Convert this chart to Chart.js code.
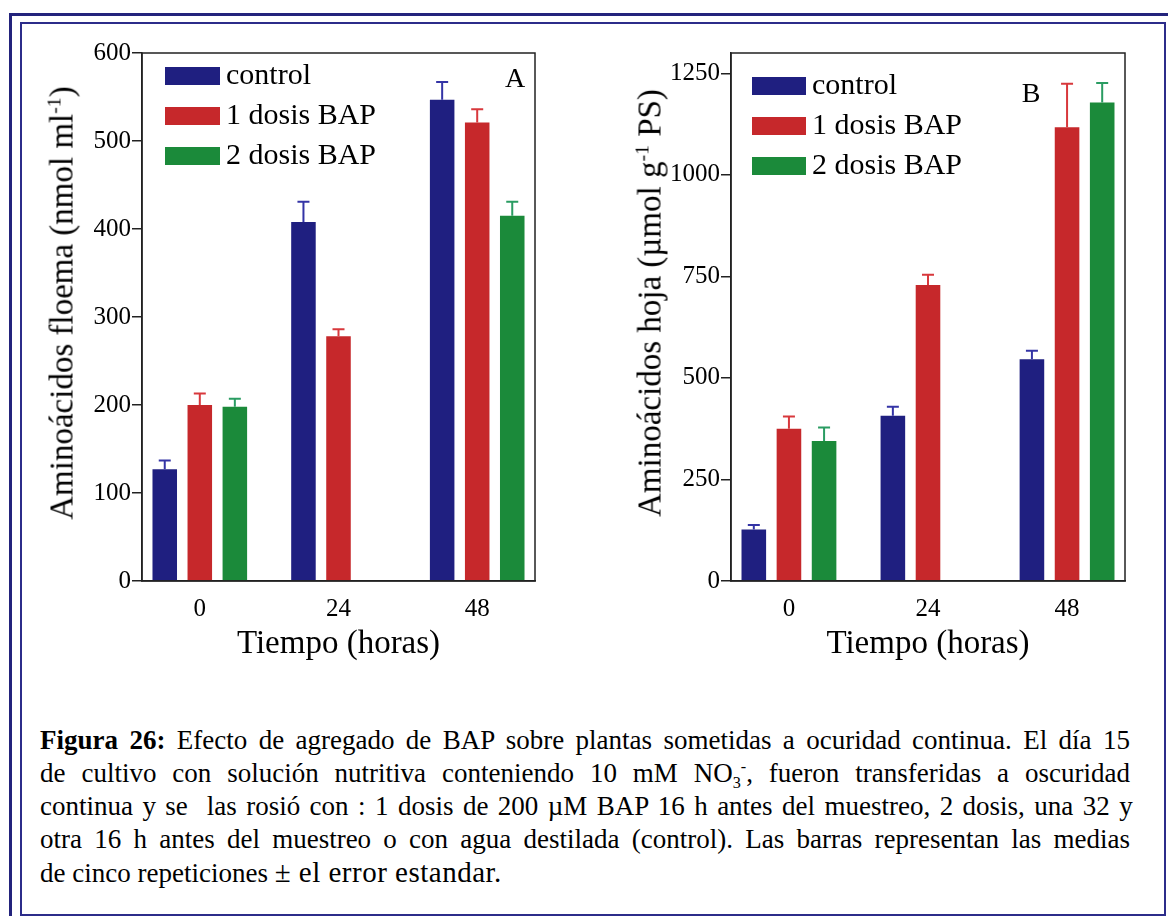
<!DOCTYPE html>
<html>
<head>
<meta charset="utf-8">
<title>Figura 26</title>
<script src="https://cdn.jsdelivr.net/npm/chart.js@4.4.1/dist/chart.umd.min.js"></script>
<style>
  html, body { margin: 0; padding: 0; background: #fff; }
  body { width: 1168px; height: 916px; overflow: hidden; position: relative;
         font-family: "Liberation Serif", "Times New Roman", serif; color: #000; }
  .frame-outer { position: absolute; left: 9px; top: 13px; width: 1200px; height: 960px;
                 border: 3px solid #23237c; }
  .frame-inner { position: absolute; left: 20px; top: 22px; width: 1142px; height: 890px;
                 border: 2px solid #2c2c8a; }
  canvas { position: absolute; }
  #chartA { left: 24px; top: 26px; }
  #chartB { left: 600px; top: 26px; }
  .ytitle { position: absolute; white-space: nowrap; font-size: 33px; line-height: 1;
            transform: translate(-50%, -50%) rotate(-90deg); }
  .ytitle sup { font-size: 0.6em; vertical-align: 0.6em; line-height: 0; }
  .panel { position: absolute; font-size: 28px; line-height: 1; transform: translate(-50%, -50%); }
  .cap { position: absolute; left: 40px; font-size: 27px; line-height: 33px; white-space: nowrap; }
  .cap span.l { display: inline-block; transform-origin: 0 50%; }
  .cap sub, .cap sup { font-size: 0.6em; line-height: 0; }
  .cap .wide { font-size: 29px; letter-spacing: 0.5px; }
</style>
</head>
<body>
<div class="frame-outer"></div>
<div class="frame-inner"></div>

<canvas id="chartA" width="540" height="650"></canvas>
<canvas id="chartB" width="550" height="650"></canvas>

<div class="ytitle" style="left:62px; top:303px;">Aminoácidos floema (nmol ml<sup>-1</sup>)</div>
<div class="ytitle" style="left:650px; top:303px;">Aminoácidos hoja (µmol g<sup>-1</sup> PS)</div>
<div class="panel" style="left:515px; top:78px;">A</div>
<div class="panel" style="left:1031px; top:93px;">B</div>

<div class="cap" style="top:724px;"><span class="l j"><b>Figura 26:</b> Efecto de agregado de BAP sobre plantas sometidas a ocuridad continua. El día 15</span></div>
<div class="cap" style="top:757px;"><span class="l j">de cultivo con solución nutritiva conteniendo 10 mM NO<sub>3</sub><sup>-</sup>, fueron transferidas a oscuridad</span></div>
<div class="cap" style="top:790px;"><span class="l j">continua y se&nbsp; las rosió con : 1 dosis de 200 µM BAP 16 h antes del muestreo, 2 dosis, una 32 y</span></div>
<div class="cap" style="top:823px;"><span class="l j">otra 16 h antes del muestreo o con agua destilada (control). Las barras representan las medias</span></div>
<div class="cap" style="top:856px;"><span class="l">de cinco repeticiones <span class="wide">± el error estandar.</span></span></div>

<script>
// Sampling times (hours)
const hours = [0, 24, 48];
const seriesNames = ['control', '1 dosis BAP', '2 dosis BAP'];

// Panel A: amino acids in phloem exudate (nmol ml-1), means and standard errors
const floemaControl = [127, 408, 547];
const floemaDosis1  = [200, 278, 521];
const floemaDosis2  = [198, null, 415];
const floemaControlErr = [10, 23, 20];
const floemaDosis1Err  = [13, 8, 15];
const floemaDosis2Err  = [9, null, 16];
const floemaTicks = [0, 100, 200, 300, 400, 500, 600];

// Panel B: amino acids in leaf (µmol g-1 PS), means and standard errors
const hojaControl = [127, 407, 546];
const hojaDosis1  = [375, 729, 1117];
const hojaDosis2  = [345, null, 1178];
const hojaControlErr = [11, 22, 21];
const hojaDosis1Err  = [30, 25, 107];
const hojaDosis2Err  = [33, null, 48];
const hojaTicks = [0, 250, 500, 750, 1000, 1250];

const FONT = "'Liberation Serif', 'Times New Roman', serif";
const BLUE = '#1f1f80', RED = '#c6282b', GREEN = '#1b8a3a';
const BLUE_ERR = '#3434a6', RED_ERR = '#d8383c', GREEN_ERR = '#2a9c62';

Chart.defaults.font.family = FONT;
Chart.defaults.color = '#000';

const toPoints = vals => vals.map((v, i) => ({ x: hours[i], y: v }));

// One-sided (upper) error bars, placed with the chart's own scales
const errorBars = {
  id: 'errorBars',
  afterDatasetsDraw(chart) {
    const ctx = chart.ctx, ys = chart.scales.y;
    chart.data.datasets.forEach((ds, i) => {
      const meta = chart.getDatasetMeta(i);
      meta.data.forEach((bar, j) => {
        const v = ds.data[j].y, e = ds.errors[j];
        if (v == null || e == null) return;
        const y0 = ys.getPixelForValue(v), y1 = ys.getPixelForValue(v + e);
        ctx.save();
        ctx.strokeStyle = ds.errorColor;
        ctx.lineWidth = 2;
        ctx.beginPath();
        ctx.moveTo(bar.x, y0); ctx.lineTo(bar.x, y1);
        ctx.moveTo(bar.x - 6, y1); ctx.lineTo(bar.x + 6, y1);
        ctx.stroke();
        ctx.restore();
      });
    });
  }
};

// Closed box round the plotting area
const plotFrame = {
  id: 'plotFrame',
  afterDatasetsDraw(chart) {
    const { ctx, chartArea: a } = chart;
    ctx.save();
    ctx.strokeStyle = '#222';
    ctx.lineWidth = 1.5;
    ctx.strokeRect(a.left, a.top, a.right - a.left, a.bottom - a.top);
    ctx.restore();
  }
};

// Legend drawn inside the plotting area, top left
const boxLegend = {
  id: 'boxLegend',
  afterDraw(chart, args, o) {
    const { ctx, chartArea: a } = chart;
    ctx.save();
    ctx.font = `${o.fontSize}px ${FONT}`;
    ctx.textBaseline = 'middle';
    ctx.textAlign = 'left';
    chart.data.datasets.forEach((ds, i) => {
      const x = a.left + o.dx, y = a.top + o.dy + i * o.rowGap;
      ctx.fillStyle = ds.backgroundColor;
      ctx.fillRect(x, y, o.boxW, o.boxH);
      ctx.fillStyle = '#000';
      ctx.fillText(ds.label, x + o.boxW + 6, y + o.boxH / 2);
    });
    ctx.restore();
  }
};

function makeChart(id, sets, errs, yMax, yTicks, yWidth, padRight, legendOpts) {
  const colors = [BLUE, RED, GREEN], errColors = [BLUE_ERR, RED_ERR, GREEN_ERR];
  return new Chart(document.getElementById(id), {
    type: 'bar',
    data: {
      datasets: sets.map((vals, i) => ({
        label: seriesNames[i],
        data: toPoints(vals),
        errors: errs[i],
        errorColor: errColors[i],
        backgroundColor: colors[i],
        borderWidth: 0,
        categoryPercentage: 0.758,
        barPercentage: 0.70
      }))
    },
    options: {
      responsive: false,
      animation: false,
      devicePixelRatio: 1,
      layout: { padding: { top: 27, right: padRight, bottom: 0, left: 0 } },
      plugins: {
        legend: { display: false },
        tooltip: { enabled: false },
        boxLegend: legendOpts
      },
      scales: {
        x: {
          type: 'linear', min: -10, max: 58, offset: false,
          afterBuildTicks: s => { s.ticks = hours.map(v => ({ value: v })); },
          afterFit: s => { s.height = 95; },
          grid: { display: false, drawTicks: false },
          border: { display: true, color: '#222', width: 1.5 },
          ticks: { font: { size: 25 }, color: '#000', padding: 13, maxRotation: 0,
                   callback: v => String(v) },
          title: { display: true, text: 'Tiempo (horas)', font: { size: 33 }, color: '#000',
                   padding: { top: 0, bottom: 12 } }
        },
        y: {
          min: 0, max: yMax,
          afterBuildTicks: s => { s.ticks = yTicks.map(v => ({ value: v })); },
          afterFit: s => { s.width = yWidth; },
          grid: { display: true, drawOnChartArea: false, drawTicks: true, tickLength: 10,
                  color: '#222', lineWidth: 1.5 },
          border: { display: true, color: '#222', width: 1.5 },
          ticks: { font: { size: 25 }, color: '#000', padding: 1, callback: v => String(v) }
        }
      }
    },
    plugins: [errorBars, plotFrame, boxLegend]
  });
}

makeChart('chartA',
  [floemaControl, floemaDosis1, floemaDosis2],
  [floemaControlErr, floemaDosis1Err, floemaDosis2Err],
  600, floemaTicks, 118, 29,
  { dx: 23, dy: 14, rowGap: 40, boxW: 55, boxH: 18, fontSize: 30 });

makeChart('chartB',
  [hojaControl, hojaDosis1, hojaDosis2],
  [hojaControlErr, hojaDosis1Err, hojaDosis2Err],
  1300, hojaTicks, 131, 25,
  { dx: 21, dy: 24, rowGap: 40, boxW: 54, boxH: 18, fontSize: 30 });

// Justify the caption lines to a common measure
const MEASURE = 1090;
document.querySelectorAll('.cap span.j').forEach(el => {
  const w = el.getBoundingClientRect().width;
  if (w > MEASURE) {
    el.style.transform = `scaleX(${MEASURE / w})`;
  } else {
    const spaces = (el.textContent.match(/ /g) || []).length;
    if (spaces) el.style.wordSpacing = ((MEASURE - w) / spaces) + 'px';
  }
});
</script>
</body>
</html>
